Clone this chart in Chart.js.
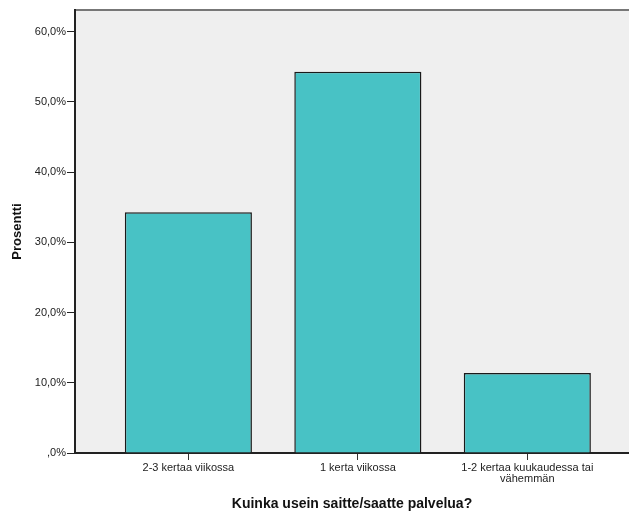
<!DOCTYPE html>
<html>
<head>
<meta charset="utf-8">
<script src="https://cdn.jsdelivr.net/npm/chart.js@4"></script>
<style>
    html, body { margin: 0; padding: 0; background: #fff; overflow: hidden; }
    #wrap { width: 629px; height: 513px; position: relative; }
</style>
</head>
<body>
<div id="wrap"><canvas id="chart"></canvas></div>
<script>
// Data
const categories = ['2-3 kertaa viikossa', '1 kerta viikossa', ['1-2 kertaa kuukaudessa tai', 'vähemmän']];
const percentages = [34.3, 54.3, 11.4];
const yTicks = [0, 10, 20, 30, 40, 50, 60];

const xTitle = 'Kuinka usein saitte/saatte palvelua?';
const yTitle = 'Prosentti';

// grey plot background + frame like SPSS output
const plotFrame = {
    id: 'plotFrame',
    beforeDraw(chart) {
        const { ctx, chartArea: a } = chart;
        ctx.save();
        ctx.fillStyle = '#efefef';
        ctx.fillRect(a.left, a.top, a.right - a.left, a.bottom - a.top);
        ctx.strokeStyle = '#777';
        ctx.lineWidth = 2;
        ctx.beginPath();
        ctx.moveTo(a.left, a.top);
        ctx.lineTo(a.right, a.top);
        ctx.stroke();
        ctx.restore();
    }
};

const fmt = v => v === 0 ? ',0%' : v.toFixed(1).replace('.', ',') + '%';

new Chart(document.getElementById('chart'), {
    type: 'bar',
    data: {
        datasets: [{
            data: percentages.map((v, i) => ({ x: i, y: v })),
            backgroundColor: '#48c2c5',
            borderColor: '#1a1a1a',
            borderWidth: 1.5,
            barPercentage: 0.75,
            categoryPercentage: 1
        }]
    },
    options: {
        responsive: true,
        maintainAspectRatio: false,
        animation: false,
        layout: { padding: { top: 10, right: 0, left: 0, bottom: 0 } },
        plugins: { legend: { display: false }, tooltip: { enabled: false } },
        scales: {
            x: {
                type: 'linear',
                offset: false,
                min: -0.669,
                max: 2.6,
                afterBuildTicks: s => { s.ticks = categories.map((c, i) => ({ value: i })); },
                afterFit: s => { s.height = 60; },
                ticks: {
                    callback: v => categories[v],
                    color: '#222',
                    font: { family: 'Arial, "Liberation Sans"', size: 11, lineHeight: 1.0 },
                    padding: 2,
                    maxRotation: 0,
                    autoSkip: false
                },
                grid: { offset: false, drawOnChartArea: false, drawTicks: true, tickLength: 7, color: '#333', lineWidth: 1 },
                border: { color: '#222', width: 2 },
                title: {
                    display: true,
                    text: xTitle,
                    color: '#111',
                    font: { family: 'Arial, "Liberation Sans"', size: 14, weight: 'bold' },
                    padding: { top: 0, bottom: 0 }
                }
            },
            y: {
                min: 0,
                max: 63.1,
                afterBuildTicks: s => { s.ticks = yTicks.map(v => ({ value: v })); },
                afterFit: s => { s.width = 75; },
                ticks: {
                    callback: v => fmt(v),
                    color: '#222',
                    font: { family: 'Arial, "Liberation Sans"', size: 11 },
                    padding: 1
                },
                grid: { drawOnChartArea: false, drawTicks: true, tickLength: 8, color: '#222', lineWidth: 1 },
                border: { color: '#222', width: 2 },
                title: {
                    display: true,
                    text: yTitle,
                    color: '#111',
                    font: { family: 'Arial, "Liberation Sans"', size: 13, weight: 'bold' },
                    padding: { top: 10, bottom: 0 }
                }
            }
        }
    },
    plugins: [plotFrame]
});
</script>
</body>
</html>
